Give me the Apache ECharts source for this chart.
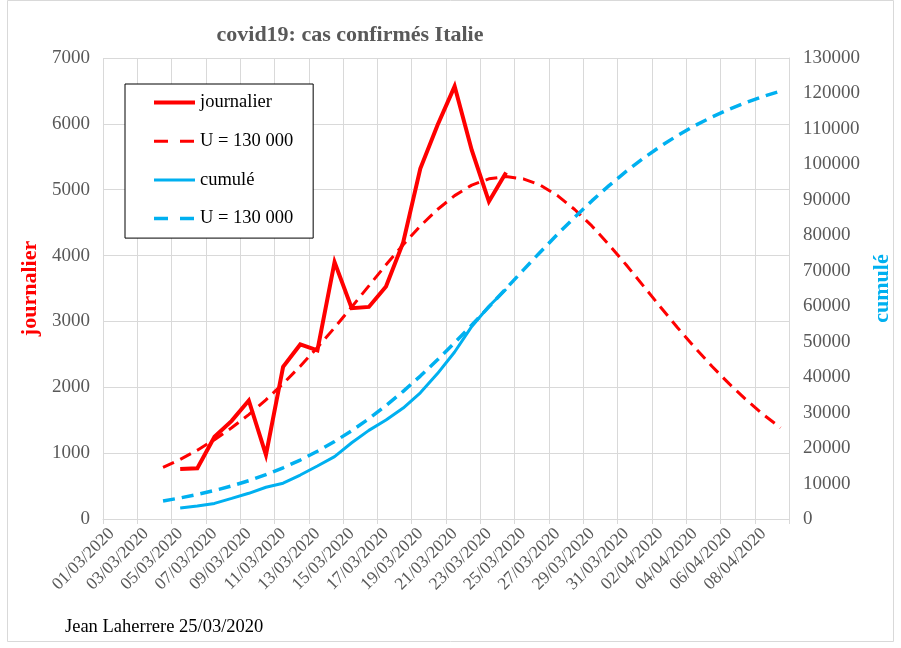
<!DOCTYPE html>
<html>
<head>
<meta charset="utf-8">
<script src="https://cdn.jsdelivr.net/npm/echarts@6/dist/echarts.min.js"></script>
<style>
  html, body { margin: 0; padding: 0; background: #fff; }
  #chart { width: 901px; height: 648px; }
</style>
</head>
<body>
<div id="chart"></div>
<script>
var dates = [
  '01/03/2020', '02/03/2020', '03/03/2020', '04/03/2020', '05/03/2020', '06/03/2020', '07/03/2020', '08/03/2020',
  '09/03/2020', '10/03/2020', '11/03/2020', '12/03/2020', '13/03/2020', '14/03/2020', '15/03/2020', '16/03/2020',
  '17/03/2020', '18/03/2020', '19/03/2020', '20/03/2020', '21/03/2020', '22/03/2020', '23/03/2020', '24/03/2020',
  '25/03/2020', '26/03/2020', '27/03/2020', '28/03/2020', '29/03/2020', '30/03/2020', '31/03/2020', '01/04/2020',
  '02/04/2020', '03/04/2020', '04/04/2020', '05/04/2020', '06/04/2020', '07/04/2020', '08/04/2020', '09/04/2020'
];

// cas journaliers (05/03 -> 24/03)
var journalier = [null, null, null, null,
  760, 770, 1250, 1490, 1800, 975, 2310, 2650, 2560, 3900,
  3200, 3220, 3530, 4200, 5320, 5980, 6570, 5600, 4820, 5260];

// modèle journalier U = 130 000 (04/03 -> 09/04)
var modeleJournalier = [null, null, null,
  785, 905, 1045, 1205, 1385, 1585, 1810, 2055, 2320, 2605,
  2905, 3220, 3540, 3860, 4165, 4450, 4700, 4910, 5070, 5165,
  5200, 5165, 5070, 4910, 4700, 4450, 4165, 3860, 3540, 3220,
  2905, 2605, 2320, 2055, 1810, 1585, 1385];

// cumulé (05/03 -> 24/03)
var cumule = [null, null, null, null,
  3100, 3650, 4400, 5800, 7250, 8950, 10100, 12400, 14950, 17600,
  21500, 25000, 27900, 31300, 35600, 41000, 47100, 54300, 60000, 64800];

// modèle cumulé U = 130 000 (04/03 -> 09/04)
var modeleCumule = [null, null, null,
  5090, 5930, 6910, 8035, 9325, 10815, 12510, 14445, 16625, 19090,
  21840, 24900, 28280, 31980, 35990, 40300, 44890, 49695, 54690, 59810,
  65000, 70190, 75310, 80305, 85110, 89700, 94010, 98020, 101720, 105100,
  108160, 110910, 113375, 115555, 117490, 119185, 120675];

var serif = 'Liberation Serif';
var grey = '#595959';
var rouge = '#ff0000';
var bleu = '#00b0f0';

function brut(v) { return String(v); } // pas de séparateur de milliers

var chart = echarts.init(document.getElementById('chart'));
chart.setOption({
  backgroundColor: '#fff',
  animation: false,
  title: {
    text: 'covid19: cas confirmés Italie',
    left: 345,
    top: 19,
    textAlign: 'center',
    textStyle: { fontFamily: serif, fontSize: 22, fontWeight: 'bold', color: grey }
  },
  grid: { left: 103, right: 107, top: 58, bottom: 129, containLabel: false },
  legend: {
    orient: 'vertical',
    left: 125,
    top: 84,
    padding: [9, 20, 10, 27],
    itemGap: 19.7,
    itemWidth: 41,
    itemHeight: 14,
    backgroundColor: '#fff',
    borderColor: '#000',
    borderWidth: 1,
    borderRadius: 0,
    itemStyle: { opacity: 0 },
    data: [
      { name: 'journalier', lineStyle: { width: 4 } },
      { name: 'modJ', lineStyle: { width: 3, type: [14, 12] } },
      { name: 'cumulé', lineStyle: { width: 3 } },
      { name: 'modC', lineStyle: { width: 3.5, type: [14, 12] } }
    ],
    formatter: function(name) {
      return name === 'modJ' || name === 'modC' ? 'U = 130 000' : name;
    },
    textStyle: { fontFamily: serif, fontSize: 18.5, color: '#000' }
  },
  xAxis: {
    type: 'category',
    data: dates,
    boundaryGap: true,
    axisLine: { lineStyle: { color: '#d9d9d9', width: 1 } },
    axisTick: { show: true, interval: 1, length: 5, lineStyle: { color: '#d9d9d9' } },
    splitLine: { show: true, interval: 1, lineStyle: { color: '#d9d9d9', width: 1 } },
    axisLabel: {
      interval: 1,
      rotate: 45,
      margin: 12,
      fontFamily: serif,
      fontSize: 17.5,
      color: grey
    }
  },
  yAxis: [{
    type: 'value',
    min: 0,
    max: 7000,
    interval: 1000,
    name: 'journalier',
    nameLocation: 'middle',
    nameGap: 48,
    nameRotate: 90,
    nameTextStyle: { fontFamily: serif, fontSize: 22, fontWeight: 'bold', color: rouge },
    axisLine: { show: false },
    axisTick: { show: false },
    axisLabel: { margin: 13, fontFamily: serif, fontSize: 19, color: grey, formatter: brut },
    splitLine: { lineStyle: { color: '#d9d9d9', width: 1 } }
  }, {
    type: 'value',
    min: 0,
    max: 130000,
    interval: 10000,
    position: 'right',
    name: 'cumulé',
    nameLocation: 'middle',
    nameGap: 78,
    nameRotate: 90,
    nameTextStyle: { fontFamily: serif, fontSize: 22, fontWeight: 'bold', color: bleu },
    axisLine: { show: true, lineStyle: { color: '#d9d9d9' } },
    axisTick: { show: false },
    axisLabel: { margin: 14, fontFamily: serif, fontSize: 19, color: grey, formatter: brut },
    splitLine: { show: false }
  }],
  series: [{
    name: 'modJ',
    type: 'line',
    yAxisIndex: 0,
    data: modeleJournalier,
    symbol: 'none',
    lineStyle: { color: rouge, width: 3, type: [12, 7] },
    itemStyle: { color: rouge }
  }, {
    name: 'modC',
    type: 'line',
    yAxisIndex: 1,
    data: modeleCumule,
    symbol: 'none',
    lineStyle: { color: bleu, width: 3.5, type: [12, 7] },
    itemStyle: { color: bleu }
  }, {
    name: 'cumulé',
    type: 'line',
    yAxisIndex: 1,
    data: cumule,
    symbol: 'none',
    lineStyle: { color: bleu, width: 3 },
    itemStyle: { color: bleu }
  }, {
    name: 'journalier',
    type: 'line',
    yAxisIndex: 0,
    data: journalier,
    symbol: 'none',
    lineStyle: { color: rouge, width: 4, join: 'miter' },
    itemStyle: { color: rouge }
  }],
  graphic: [{
    type: 'rect',
    shape: { x: 7.5, y: 0.5, width: 886, height: 641 },
    style: { fill: null, stroke: '#d9d9d9', lineWidth: 1 },
    silent: true
  }, {
    type: 'text',
    left: 65,
    top: 618,
    style: { text: 'Jean Laherrere 25/03/2020', fontFamily: serif, fontSize: 18.5, fill: '#000' }
  }]
});
</script>
</body>
</html>
